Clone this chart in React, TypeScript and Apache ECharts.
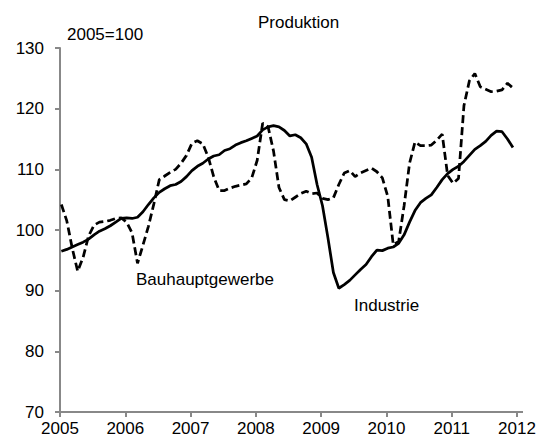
import React, { useEffect, useRef } from "react";
import * as echarts from "echarts";

const yearTicks = ["2005", "2006", "2007", "2008", "2009", "2010", "2011", "2012"];
const startYear = 2005;

// Monthly index values, Jan 2005 – Dec 2011 (2005=100)
const industrie = [
  96.5, 96.8, 97.2, 97.6, 98.0, 98.5, 99.2, 99.8, 100.2, 100.7, 101.3, 101.9,
  102.0, 101.9, 102.1, 103.0, 104.2, 105.3, 106.2, 106.8, 107.3, 107.5, 108.0, 108.8,
  109.8, 110.5, 111.0, 111.7, 112.2, 112.4, 113.1, 113.4, 114.0, 114.4, 114.7, 115.1,
  115.5, 116.5, 117.0, 117.2, 117.0, 116.4, 115.5, 115.7, 115.2, 114.2, 112.0, 107.5,
  104.0, 98.7, 93.0, 90.4, 91.0, 91.7, 92.6, 93.5, 94.3, 95.6, 96.7, 96.6,
  97.0, 97.2, 97.8, 99.2, 101.3, 103.2, 104.5, 105.2, 105.8, 107.0, 108.3, 109.3,
  110.0, 110.5, 111.3, 112.3, 113.3, 113.9, 114.6, 115.6, 116.3, 116.2, 115.0, 113.6,
];

const bauhauptgewerbe = [
  104.2, 101.5, 97.0, 93.2, 95.5, 99.0, 100.8, 101.3, 101.4, 101.6, 101.9, 102.0,
  101.3, 99.5, 94.5, 97.5, 100.6, 104.3, 108.3, 108.9, 109.5, 110.0, 111.0, 112.3,
  114.3, 114.7, 114.2, 112.0, 108.8, 106.5, 106.5, 106.9, 107.2, 107.4, 107.6, 108.6,
  111.5, 117.6, 117.0, 113.0, 107.0, 105.0, 104.8, 105.4, 106.0, 106.4, 106.0, 106.1,
  105.2, 105.0, 105.3, 107.5, 109.4, 109.8, 108.8, 109.4, 109.8, 110.2, 109.6, 108.6,
  105.5, 97.6, 98.1, 104.0, 111.0, 114.5, 113.9, 113.9, 114.0, 114.8, 115.8, 109.0,
  107.7, 108.5, 120.5, 124.6, 125.8, 123.6, 123.2, 122.8, 122.9, 123.1, 124.2, 123.4,
];

const FONT = "'Liberation Sans', Arial, sans-serif";
const AXIS_COLOR = "#888888";

function toPoints(values: number[]) {
  return values.map((v, i) => [startYear + (i + 0.25) / 12, v]);
}

export default function App() {
  const ref = useRef<HTMLDivElement>(null);

  useEffect(() => {
    if (!ref.current) return;
    const chart = echarts.init(ref.current, undefined, { renderer: "svg" });
    chart.setOption({
      animation: false,
      backgroundColor: "#ffffff",
      textStyle: { fontFamily: FONT },
      title: {
        text: "Produktion",
        left: 253,
        top: 9,
        textStyle: { fontFamily: FONT, fontSize: 17, fontWeight: "normal", color: "#000" },
      },
      grid: { left: 60, right: 28, top: 48, bottom: 32, containLabel: false },
      xAxis: {
        type: "value",
        min: 2005,
        max: 2012,
        interval: 1,
        axisLine: { show: true, lineStyle: { color: AXIS_COLOR, width: 2 } },
        axisTick: { show: true, inside: false, length: 5, lineStyle: { color: AXIS_COLOR, width: 2 } },
        splitLine: { show: false },
        axisLabel: {
          margin: 8,
          fontSize: 17,
          color: "#000",
          fontFamily: FONT,
          formatter: (v: number) => {
            const s = String(Math.round(v));
            return yearTicks.includes(s) ? s : "";
          },
        },
      },
      yAxis: {
        type: "value",
        min: 70,
        max: 130,
        interval: 10,
        axisLine: { show: true, lineStyle: { color: AXIS_COLOR, width: 2 } },
        axisTick: { show: true, inside: false, length: 5, lineStyle: { color: AXIS_COLOR, width: 2 } },
        splitLine: { show: false },
        axisLabel: { margin: 16, fontSize: 17, color: "#000", fontFamily: FONT },
      },
      series: [
        {
          name: "Industrie",
          type: "line",
          data: toPoints(industrie),
          showSymbol: false,
          symbol: "none",
          lineStyle: { color: "#000", width: 2.75, type: "solid" },
          z: 3,
        },
        {
          name: "Bauhauptgewerbe",
          type: "line",
          data: toPoints(bauhauptgewerbe),
          showSymbol: false,
          symbol: "none",
          lineStyle: { color: "#000", width: 2.75, type: [8, 4] },
          z: 2,
        },
      ],
      graphic: [
        {
          type: "line",
          shape: { x1: 516, y1: 412, x2: 523, y2: 412 },
          style: { stroke: AXIS_COLOR, lineWidth: 2 },
        },
        {
          type: "text",
          left: 67,
          top: 26,
          style: { text: "2005=100", fontSize: 17, fontFamily: FONT, fill: "#000" },
        },
        {
          type: "text",
          left: 136,
          top: 271,
          style: { text: "Bauhauptgewerbe", fontSize: 17, fontFamily: FONT, fill: "#000" },
        },
        {
          type: "text",
          left: 354,
          top: 297,
          style: { text: "Industrie", fontSize: 17, fontFamily: FONT, fill: "#000" },
        },
      ],
    });
    return () => chart.dispose();
  }, []);

  return (
    <div
      ref={ref}
      style={{ position: "absolute", left: 0, top: 0, width: 545, height: 444 }}
    />
  );
}
